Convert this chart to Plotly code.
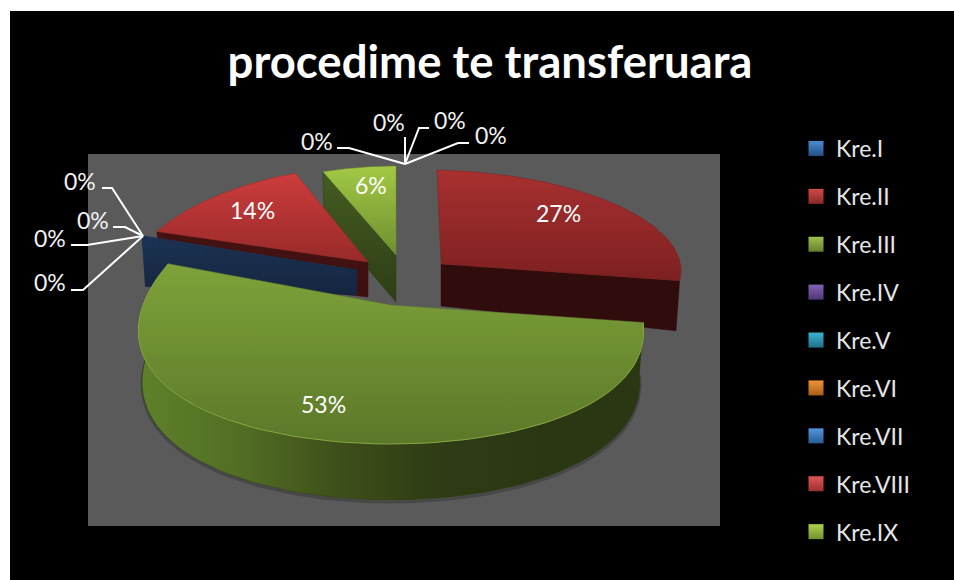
import numpy as np
import plotly.graph_objects as go

# ---- data ----
categories = ["Kre.I", "Kre.II", "Kre.III", "Kre.IV", "Kre.V", "Kre.VI", "Kre.VII", "Kre.VIII", "Kre.IX"]
values = [0.0, 27.0, 52.8, 0.0, 0.0, 0.0, 0.4, 14.0, 5.8]
swatch_colors = ["#4a8ad0", "#cf4a48", "#a0c04c", "#8562b8", "#3cb2cf", "#f09438", "#5296de", "#e25656", "#aed24e"]
swatch_dark = ["#24528a", "#8c2826", "#667e2e", "#4e3774", "#1f738a", "#a85c1a", "#2a5c94", "#9c3030", "#72902e"]
title_text = "procedime te transferuara"

# ---- perspective drawing settings for each visible slice (style, not data) ----
FONT = "Lato, Carlito, Calibri, sans-serif"
GEOM = {
    "Kre.II": dict(cx=441, cy=264, a=240, b=94, p=.0, sx=-4, sy=5, T=50, Ta=42, q=0, cut="end", order=0,
                   top=["#a83030", "#7d2020"], side=["#300d0c", "#300d0c"], rim=None),
    "Kre.IX": dict(cx=396, cy=255, a=205, b=89, p=0, sx=0, sy=0, T=46, Ta=47, q=0, cut="start", order=1,
                   top=["#a2c944", "#6f8f30"], side=["#445c20", "#2e3d16"], rim=None),
    "Kre.VIII": dict(cx=368, cy=262, a=233, b=95, p=.135, sx=0, sy=0, T=42, Ta=35, q=0, cut="start", order=2,
                     top=["#cc3c3c", "#982a2a"], side=["#451212", "#3e0f0f"], rim=None),
    "Kre.VII": dict(cx=357, cy=270, a=225, b=106, p=0, sx=0, sy=0, T=48, Ta=25, q=0, cut="start", order=3,
                    top=["#1b3353", "#1b3353"], side=["#1b3353", "#15253f"], rim=None),
    "Kre.III": dict(cx=391, cy=305, a=248, b=139, p=.2, sx=0, sy=0, T=50, Ta=50, q=.12, cut=None, order=4,
                    top=["#7fa23a", "#5b7829"], side=None, rim="#86a840"),
}
SHRINK = .985

total = sum(values)
# angles run clockwise from 12 o'clock in category order
cum = np.cumsum([0.0] + values) / total * 360.0
theta_span = {name: (cum[i], cum[i + 1]) for i, name in enumerate(categories)}


def rim_xy(g, th):
    th = np.radians(th)
    x = g["cx"] + g["a"] * np.sin(th) * (1 - g["p"] * np.cos(th)) + g["sx"] * np.cos(th)
    y = g["cy"] - g["b"] * np.cos(th) + g["sy"] * np.sin(th)
    return x, y


def rim_base(g, th):
    x, y = rim_xy(g, th)
    t = g["T"] * (1 - g["q"] * np.cos(np.radians(th)))
    return g["cx"] + (x - g["cx"]) * SHRINK, y + t


fig = go.Figure()


def face(x, y, colors, horizontal=False):
    cols = colors if horizontal else colors[::-1]  # y axis is reversed
    grad = dict(type="horizontal" if horizontal else "vertical",
                colorscale=[[i / (len(cols) - 1), c] for i, c in enumerate(cols)])
    fig.add_trace(go.Scatter(x=list(x), y=list(y), mode="lines", fill="toself", fillgradient=grad,
                             line=dict(width=0.5, color=colors[-1]),
                             hoverinfo="skip", showlegend=False))


for name in sorted(GEOM, key=lambda n: GEOM[n]["order"]):
    g = GEOM[name]
    t0, t1 = theta_span[name]
    ts = np.linspace(t0, t1, 90)
    X, Y = rim_xy(g, ts)
    apex = (g["cx"], g["cy"])
    apex_b = (g["cx"], g["cy"] + g["Ta"])
    # cut face of the slice
    if g["cut"]:
        th = t0 if g["cut"] == "start" else t1
        rx, ry = rim_xy(g, th)
        bx, by = rim_base(g, th)
        face([apex[0], rx, bx, apex_b[0], apex[0]], [apex[1], ry, by, apex_b[1], apex[1]], g["side"])
    # outer wall of the big front slice
    if name == "Kre.III":
        ws = np.linspace(t0, 272, 90)
        wx, wy = rim_xy(g, ws)
        bx, by = rim_base(g, ws)
        fig.add_trace(go.Scatter(x=bx, y=by + 2, mode="lines", line=dict(color="rgba(30,30,30,.3)", width=3),
                                 hoverinfo="skip", showlegend=False))
        face(np.r_[wx, bx[::-1], wx[0]], np.r_[wy, by[::-1], wy[0]],
             ["#5f812a", "#526e24", "#3d4f19", "#2e3b14", "#2b3712", "#2b3712"], horizontal=True)
    # top surface
    face(np.r_[apex[0], X, apex[0]], np.r_[apex[1], Y, apex[1]], g["top"])
    if g["rim"]:
        fig.add_trace(go.Scatter(x=X, y=Y, mode="lines", line=dict(color=g["rim"], width=1),
                                 hoverinfo="skip", showlegend=False))

# legend: one entry per category
for name, col, dark in zip(categories, swatch_colors, swatch_dark):
    fig.add_trace(go.Scatter(x=[None], y=[None], mode="markers", name=name, legendgroup=name,
                             marker=dict(symbol="square", size=15, color=col, line=dict(width=0),
                                         gradient=dict(type="vertical", color=dark))))

annotations = []
# percentage labels on the visible slices
inner_pos = {"Kre.II": (558, 213), "Kre.III": (323, 404), "Kre.VIII": (252, 210), "Kre.IX": (371, 185)}
for name, v in zip(categories, values):
    if name in inner_pos:
        annotations.append(dict(x=inner_pos[name][0], y=inner_pos[name][1], text=f"{round(v / total * 100)}%",
                                showarrow=False, font=dict(family=FONT, size=23, color="white")))
# leader-lined zero labels
leaders = [
    ((80, 181), [(102, 188), (112, 188), (143, 236)]),
    ((93, 220), [(113, 227), (125, 227), (143, 236)]),
    ((50, 238), [(71, 245), (87, 245), (143, 236)]),
    ((50, 282), [(71, 290), (83, 290), (143, 236)]),
    ((317, 141), [(337, 148), (349, 148), (405, 164)]),
    ((389, 122), [(405, 137), (405, 164)]),
    ((450, 120), [(429, 128), (419, 128), (405, 164)]),
    ((491, 135), [(469, 143), (458, 143), (405, 164)]),
]
shapes = [
    dict(type="rect", xref="x", yref="y", x0=10, x1=954, y0=11, y1=580, fillcolor="black", line_width=0, layer="below"),
    dict(type="rect", xref="x", yref="y", x0=88, x1=720, y0=154, y1=526, fillcolor="#5a5a5a", line_width=0, layer="below"),
]
for (tx, ty), pts in leaders:
    annotations.append(dict(x=tx, y=ty, text="0%", showarrow=False, font=dict(family=FONT, size=23, color="#f2f2f2")))
    path = "M " + " L ".join(f"{a},{b}" for a, b in pts)
    shapes.append(dict(type="path", path=path, line=dict(color="white", width=2), layer="above"))

fig.update_layout(
    width=954, height=580, autosize=False,
    margin=dict(l=0, r=0, t=0, b=0),
    paper_bgcolor="white", plot_bgcolor="rgba(0,0,0,0)",
    xaxis=dict(range=[0, 954], visible=False, fixedrange=True),
    yaxis=dict(range=[580, 0], visible=False, fixedrange=True),
    title=dict(text=f"<b>{title_text}</b>", x=490 / 954, y=1 - 62 / 580, xanchor="center", yanchor="middle",
               font=dict(family=FONT, size=45.5, color="white")),
    legend=dict(x=796 / 954, y=1 - 127 / 580, xanchor="left", yanchor="top", bgcolor="rgba(0,0,0,0)",
                font=dict(family=FONT, size=23, color="#e6e6e6"), tracegroupgap=15, itemclick=False, itemdoubleclick=False),
    shapes=shapes, annotations=annotations, showlegend=True,
)
fig.write_html("out.html", config={"displayModeBar": False},
               post_script="document.body.style.margin='0';")
